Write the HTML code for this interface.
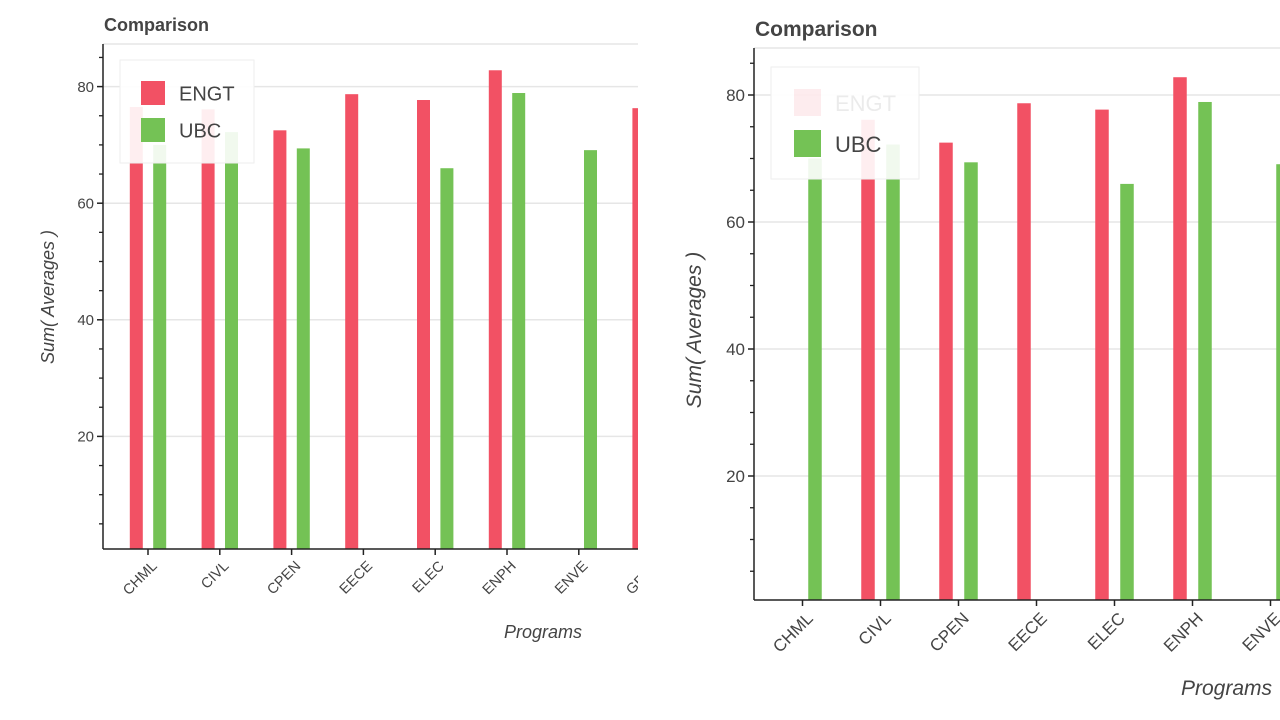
<!DOCTYPE html>
<html><head><meta charset="utf-8"><style>
html,body{margin:0;padding:0;background:#fff;width:1280px;height:720px;overflow:hidden}
svg{display:block}
text{font-family:"Liberation Sans",Arial,sans-serif;fill:#444}
</style></head><body>
<svg id="chart" width="1280" height="720" viewBox="0 0 1280 720"></svg>
<script>
const categories = ["CHML","CIVL","CPEN","EECE","ELEC","ENPH","ENVE","GEOL"];
const engtValues = [76.5, 76.1, 72.5, 78.7, 77.7, 82.8, null, 76.3];
const engtValuesRight = [null, 76.1, 72.5, 78.7, 77.7, 82.8, null, 76.3];
const ubcValues = [70.0, 72.2, 69.4, null, 66.0, 78.9, 69.1, null];
const yTicks = [20, 40, 60, 80];
const yMinorTicks = [5,10,15,25,30,35,45,50,55,65,70,75,85];
const seriesNames = ["ENGT","UBC"];

const NS = "http://www.w3.org/2000/svg";
const svg = document.getElementById("chart");
function mk(tag, attrs, parent) {
  const e = document.createElementNS(NS, tag);
  for (const k in attrs) e.setAttribute(k, attrs[k]);
  (parent || svg).appendChild(e);
  return e;
}
const RED = "#f25164", GREEN = "#74c255";

function drawPanel(p) {
  const g = mk("g", {});
  
  
  const y = v => p.y0 - v * p.ky;
  const x = i => p.x0 + i * p.dx;
  const clipId = "clip-" + p.name;
  const cp = mk("clipPath", {id: clipId}, g);
  mk("rect", {x: p.axX, y: p.top, width: p.right - p.axX, height: p.axY - p.top}, cp);
  const clip2 = "clipl-" + p.name;
  const cp2 = mk("clipPath", {id: clip2}, g);
  mk("rect", {x: 0, y: p.axY, width: p.right, height: 720 - p.axY}, cp2);
  const t = mk("text", {x: p.axX + 1, y: p.titleY, "font-size": p.titleSize, "font-weight": "bold", fill: "#444"}, g);
  t.textContent = "Comparison";
  
  
  mk("line", {x1: p.axX, x2: p.right, y1: p.top, y2: p.top, stroke: "#e6e6e6", "stroke-width": 1.5}, g);
  yTicks.forEach(v => {
    const gl = mk("line", {x1: p.axX, x2: p.right, y1: y(v), y2: y(v), stroke: "#e6e6e6", "stroke-width": 1.5}, g);
    
    
  });
  const bg = mk("g", {"clip-path": "url(#" + clipId + ")"}, g);
  categories.forEach((c, i) => {
    [[p.engt[i], -1, RED, "engt"], [ubcValues[i], 1, GREEN, "ubc"]].forEach(([v, s, col, nm]) => {
      if (v == null) return;
      const cx = x(i) + s * p.off;
      const r = mk("rect", {x: cx - p.bw / 2, y: y(v), width: p.bw, height: p.axY - y(v), fill: col}, bg);
      
      
    });
  });
  mk("line", {x1: p.axX, x2: p.axX, y1: p.top, y2: p.axY, stroke: "#222", "stroke-width": 1.5}, g);
  mk("line", {x1: p.axX, x2: p.right, y1: p.axY, y2: p.axY, stroke: "#222", "stroke-width": 1.5}, g);
  yTicks.forEach(v => {
    mk("line", {x1: p.axX - 6, x2: p.axX, y1: y(v), y2: y(v), stroke: "#222", "stroke-width": 1.5}, g);
    const tl = mk("text", {x: p.axX - 9, y: y(v) + p.tickSize * 0.35, "text-anchor": "end", "font-size": p.tickSize}, g);
    tl.textContent = v;
    
    
  });
  yMinorTicks.forEach(v => {
    if (y(v) < p.top || y(v) > p.axY) return;
    mk("line", {x1: p.axX - 4, x2: p.axX, y1: y(v), y2: y(v), stroke: "#222", "stroke-width": 1.3}, g);
  });
  const lblG = mk("g", {"clip-path": "url(#" + clip2 + ")"}, g);
  categories.forEach((c, i) => {
    const cx = x(i);
    if (cx <= p.right) mk("line", {x1: cx, x2: cx, y1: p.axY, y2: p.axY + 6, stroke: "#222", "stroke-width": 1.5}, g);
    const lx = cx + 3, ly = p.axY + 11;
    const tl = mk("text", {x: lx, y: ly, "text-anchor": "end", "font-size": p.xTickSize,
      transform: "rotate(-45 " + lx + " " + ly + ")", "dominant-baseline": "hanging"}, lblG);
    tl.textContent = c;
    
    
  });
  const xt = mk("text", {x: p.xTitleX, y: p.xTitleY, "text-anchor": "end", "font-size": p.axTitleSize, "font-style": "italic"}, g);
  xt.textContent = "Programs";
  
  
  const yt = mk("text", {x: p.yTitleX, y: p.yTitleY, "text-anchor": "middle", "font-size": p.axTitleSize, "font-style": "italic",
    transform: "rotate(-90 " + p.yTitleX + " " + p.yTitleY + ")"}, g);
  yt.textContent = "Sum( Averages )";
  
  
  const lg = mk("g", {}, g);
  
  
  mk("rect", {x: p.lg.x, y: p.lg.y, width: p.lg.w, height: p.lg.h, fill: "rgba(255,255,255,0.9)", stroke: "#eee"}, lg);
  seriesNames.forEach((s, k) => {
    const col = k === 0 ? RED : GREEN;
    const faded = k === 0 && p.fadeEngt;
    const sy = p.lg.sy + k * p.lg.gap;
    const e = mk("g", {opacity: faded ? 0.1 : 1}, lg);
    
    
    mk("rect", {x: p.lg.sx, y: sy, width: p.lg.sw, height: p.lg.sw, fill: col}, e);
    const tt = mk("text", {x: p.lg.sx + p.lg.sw + 14, y: sy + p.lg.sw * 0.82, "font-size": p.lg.fs}, e);
    tt.textContent = s;
  });
}

drawPanel({name: "left-chart", engt: engtValues, axX: 103, axY: 549, top: 44, right: 638, y0: 553, ky: 5.83,
  x0: 148, dx: 71.8, off: 11.7, bw: 13, titleY: 31, titleSize: 18, tickSize: 15, xTickSize: 14.5,
  axTitleSize: 18, xTitleX: 582, xTitleY: 638, yTitleX: 54, yTitleY: 297, fadeEngt: false,
  lg: {x: 120, y: 60, w: 134, h: 103, sx: 141, sy: 81, gap: 37, sw: 24, fs: 20}});
drawPanel({name: "right-chart", engt: engtValuesRight, axX: 754, axY: 600, top: 48, right: 1280, y0: 603, ky: 6.35,
  x0: 802.5, dx: 78, off: 12.5, bw: 13.5, titleY: 36, titleSize: 21, tickSize: 17, xTickSize: 17,
  axTitleSize: 21, xTitleX: 1272, xTitleY: 695, yTitleX: 701, yTitleY: 330, fadeEngt: true,
  lg: {x: 771, y: 67, w: 148, h: 112, sx: 794, sy: 89, gap: 41, sw: 27, fs: 22}});
</script>
</body></html>
